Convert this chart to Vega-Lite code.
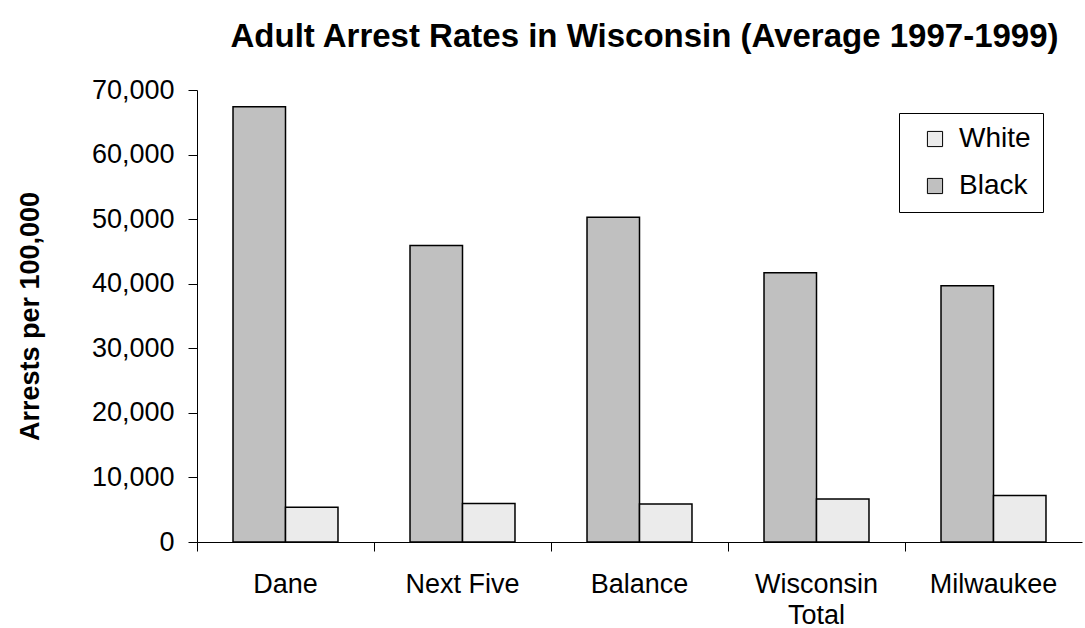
{
  "$schema": "https://vega.github.io/schema/vega-lite/v6.json",
  "width": 885,
  "height": 452,
  "autosize": {"type": "none"},
  "padding": {"left": 197, "top": 90, "right": 3, "bottom": 86},
  "background": "white",
  "title": {
    "text": "Adult Arrest Rates in Wisconsin (Average 1997-1999)",
    "font": "Liberation Sans",
    "fontSize": 33,
    "fontWeight": "bold",
    "color": "black",
    "anchor": "middle",
    "offset": 22,
    "dx": 5
  },
  "data": {
    "values": [
      {"region": "Dane", "race": "Black", "rate": 67400},
      {"region": "Dane", "race": "White", "rate": 5400},
      {"region": "Next Five", "race": "Black", "rate": 45900},
      {"region": "Next Five", "race": "White", "rate": 5950},
      {"region": "Balance", "race": "Black", "rate": 50300},
      {"region": "Balance", "race": "White", "rate": 5900},
      {"region": "Wisconsin Total", "race": "Black", "rate": 41700},
      {"region": "Wisconsin Total", "race": "White", "rate": 6650},
      {"region": "Milwaukee", "race": "Black", "rate": 39700},
      {"region": "Milwaukee", "race": "White", "rate": 7200}
    ]
  },
  "mark": {"type": "bar", "stroke": "black", "strokeWidth": 1.5},
  "encoding": {
    "x": {
      "field": "region",
      "type": "nominal",
      "sort": ["Dane", "Next Five", "Balance", "Wisconsin Total", "Milwaukee"],
      "scale": {"paddingInner": 0, "paddingOuter": 0},
      "axis": {
        "title": null,
        "labelAngle": 0,
        "labelFont": "Liberation Sans",
        "labelFontSize": 27,
        "labelColor": "black",
        "labelPadding": 20,
        "labelLineHeight": 31,
        "labelExpr": "datum.label == 'Wisconsin Total' ? ['Wisconsin', 'Total'] : datum.label",
        "bandPosition": 0,
        "tickSize": 9,
        "tickColor": "black",
        "domainColor": "black",
        "grid": false
      }
    },
    "xOffset": {
      "field": "race",
      "type": "nominal",
      "sort": ["Black", "White"],
      "scale": {"paddingInner": 0, "paddingOuter": 0.686}
    },
    "y": {
      "field": "rate",
      "type": "quantitative",
      "scale": {"domain": [0, 70000], "nice": false},
      "axis": {
        "title": "Arrests per 100,000",
        "titleFont": "Liberation Sans",
        "titleFontSize": 27,
        "titleFontWeight": "bold",
        "titleColor": "black",
        "titlePadding": 47,
        "values": [0, 10000, 20000, 30000, 40000, 50000, 60000, 70000],
        "format": ",.0f",
        "labelFont": "Liberation Sans",
        "labelFontSize": 27,
        "labelColor": "black",
        "labelPadding": 14,
        "tickSize": 9,
        "tickColor": "black",
        "domainColor": "black",
        "grid": false
      }
    },
    "color": {
      "field": "race",
      "type": "nominal",
      "scale": {"domain": ["White", "Black"], "range": ["#ebebeb", "#c0c0c0"]},
      "legend": {
        "title": null,
        "orient": "none",
        "legendX": 702,
        "legendY": 23,
        "strokeColor": "black",
        "fillColor": "white",
        "padding": 12,
        "symbolOffset": 10,
        "labelFont": "Liberation Sans",
        "labelFontSize": 28,
        "labelColor": "black",
        "labelOffset": 10,
        "symbolType": "square",
        "symbolSize": 230,
        "symbolStrokeColor": "black",
        "symbolStrokeWidth": 1,
        "rowPadding": 19,
        "cornerRadius": 0
      }
    }
  },
  "config": {
    "view": {"stroke": null},
    "axis": {"domainWidth": 1, "tickWidth": 1}
  }
}
